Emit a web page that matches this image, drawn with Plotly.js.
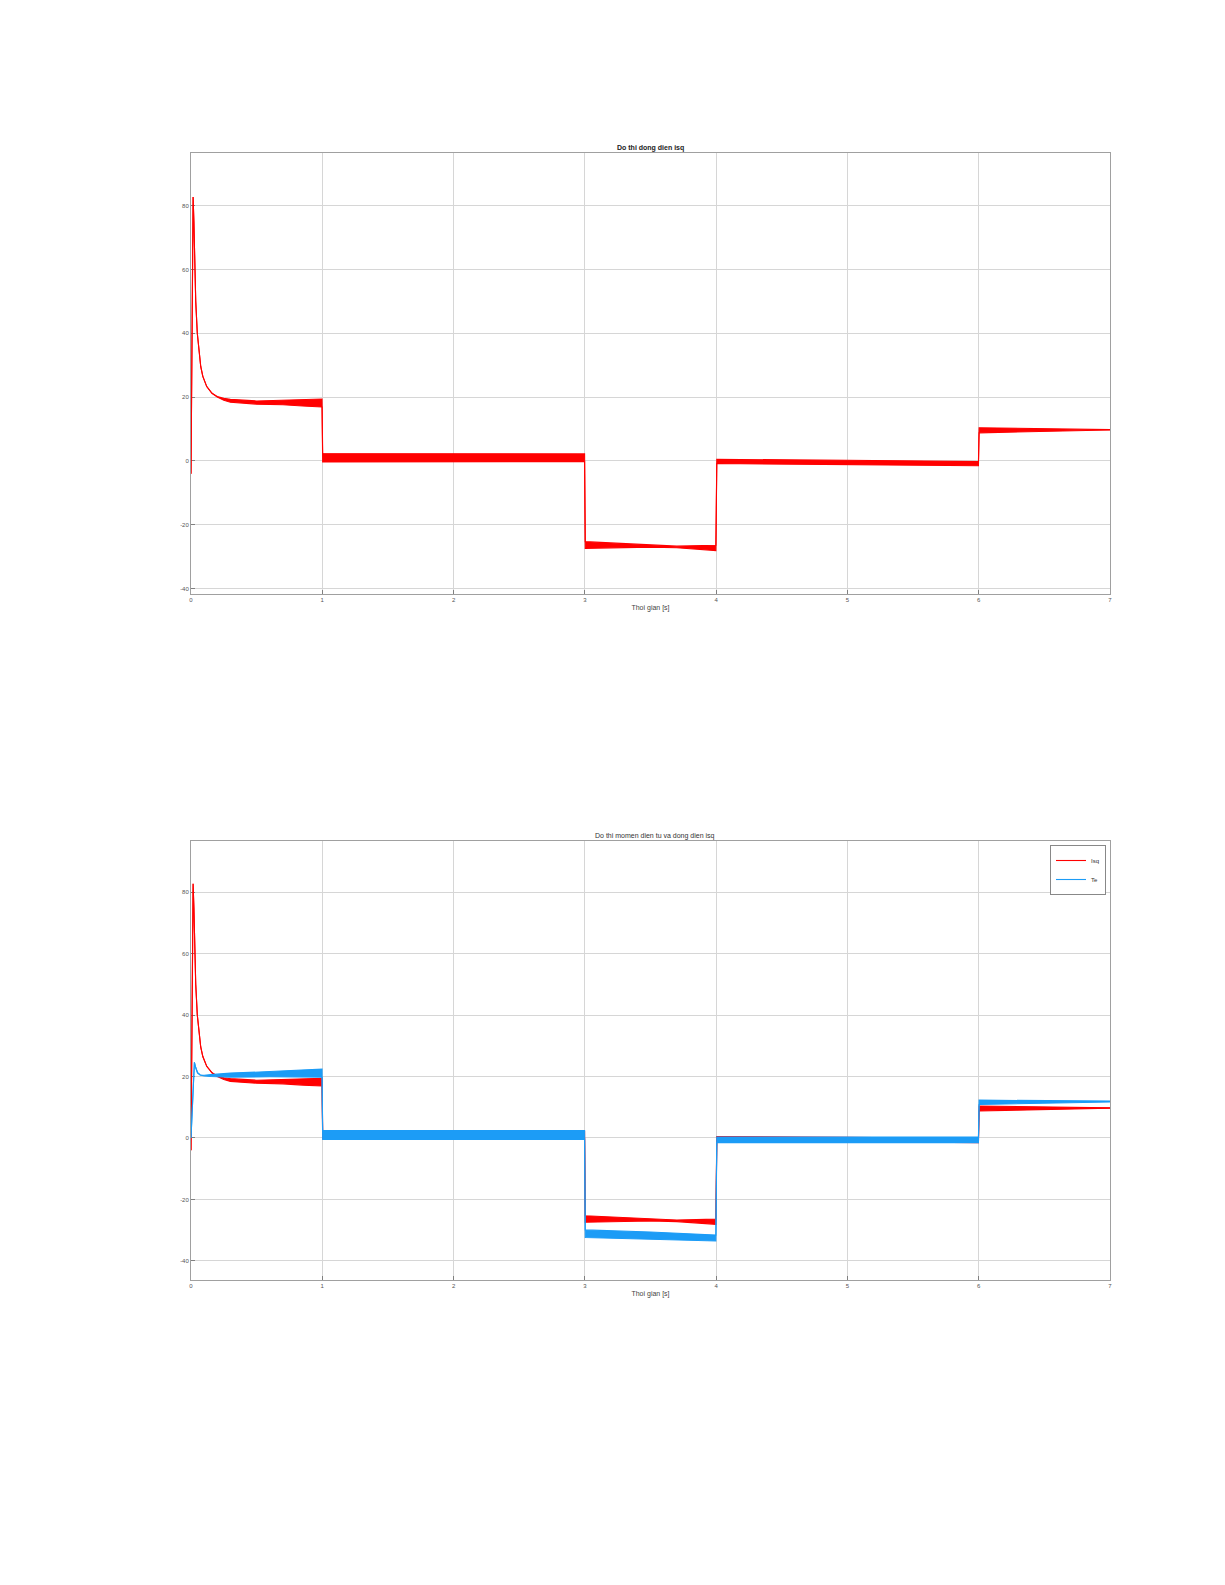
<!DOCTYPE html>
<html>
<head>
<meta charset="utf-8">
<script src="https://cdn.plot.ly/plotly-3.0.1.min.js"></script>
<style>html,body{margin:0;padding:0;background:#fff;}#chart{width:1225px;height:1585px;}</style>
</head>
<body>
<div id="chart"></div>
<script>
// ---- Data (envelopes of the oscillating signals) ----
const tIsq = [0, 0.004, 0.01, 0.016, 0.022, 0.028, 0.036, 0.048, 0.06, 0.074, 0.09, 0.12, 0.16, 0.2, 0.25, 0.3, 0.5, 0.7, 0.85, 0.998, 1.003, 2.0, 2.998, 3.003, 3.5, 3.7, 3.998, 4.005, 5.0, 5.998, 6.003, 6.5, 6.998, 7.0];
const isqHigh = [-4, 30, 70, 82.7, 75, 60, 50, 40, 34, 29.6, 26.5, 23.3, 21.2, 20.2, 19.6, 19.3, 18.8, 19.0, 19.3, 19.4, 2.3, 2.2, 2.2, -25.3, -26.2, -26.7, -26.4, 0.5, 0.2, -0.2, 10.4, 10.1, 9.9, 9.8];
const isqLow  = [-4, 30, 70, 82.7, 75, 60, 50, 40, 34, 29.6, 26.5, 23.3, 21.2, 20.0, 19.0, 18.4, 17.8, 17.6, 17.2, 16.9, -0.3, -0.2, -0.2, -27.4, -27.0, -27.2, -28.1, -0.8, -1.1, -1.5, 8.8, 9.3, 9.6, 9.7];

const tTe = [0, 0.01, 0.02, 0.026, 0.035, 0.05, 0.07, 0.1, 0.15, 0.3, 0.6, 0.998, 1.003, 2.0, 2.998, 3.003, 3.5, 3.998, 4.005, 5.0, 5.998, 6.003, 6.5, 6.998, 7.0];
const teHigh = [0, 12, 23, 24.6, 23, 21.2, 20.5, 20.4, 20.6, 21.1, 21.6, 22.4, 2.4, 2.4, 2.4, -29.9, -30.6, -31.6, 0.3, 0.3, 0.3, 12.3, 12.1, 12.0, 12.0];
const teLow  = [0, 12, 23, 24.6, 23, 21.2, 20.5, 20.2, 20.0, 19.8, 19.9, 19.8, -0.5, -0.5, -0.5, -32.4, -32.9, -33.5, -1.5, -1.5, -1.5, 10.9, 11.3, 11.6, 11.7];

const xTickVals = [0, 1, 2, 3, 4, 5, 6, 7];
const xTickText = ["0", "1", "2", "3", "4", "5", "6", "7"];
const yTickVals = [-40, -20, 0, 20, 40, 60, 80];
const yTickText = ["-40", "-20", "0", "20", "40", "60", "80"];

const title1 = "Do thi dong dien isq";
const title2 = "Do thi momen dien tu va dong dien isq";
const xTitle = "Thoi gian [s]";
const seriesNames = ["Isq", "Te"];

const RED = "#ff0000";
const BLUE = "#1c9cf6";

function band(x, lo, hi, color, xa, ya, name, showLeg) {
  return [
    {x: x, y: lo, xaxis: xa, yaxis: ya, type: "scatter", mode: "lines",
     line: {color: color, width: 1.1}, name: name, legendgroup: name,
     showlegend: showLeg, hoverinfo: "skip"},
    {x: x, y: hi, xaxis: xa, yaxis: ya, type: "scatter", mode: "lines",
     line: {color: color, width: 1.1}, fill: "tonexty", fillcolor: color,
     name: name, legendgroup: name, showlegend: false, hoverinfo: "skip"}
  ];
}

const traces = []
  .concat(band(tIsq, isqLow, isqHigh, RED, "x", "y", seriesNames[0], false))
  .concat(band(tIsq, isqLow, isqHigh, RED, "x2", "y2", seriesNames[0], true))
  .concat(band(tTe, teLow, teHigh, BLUE, "x2", "y2", seriesNames[1], true));

const FONT = "Liberation Sans, Arial, sans-serif";
const xDom = [191/1225, 1110/1225];

function xAxis(anchor) {
  return {
    domain: xDom, anchor: anchor, range: [0, 7],
    tickmode: "array", tickvals: xTickVals, ticktext: xTickText,
    showgrid: true, gridcolor: "#d6d6d6", gridwidth: 1,
    zeroline: false, showline: true, linecolor: "#a0a0a0", linewidth: 1, mirror: true,
    ticks: "inside", ticklen: 4, tickcolor: "#808080", layer: "below traces",
    tickfont: {family: FONT, size: 6, color: "#555"},
    title: {text: xTitle, font: {family: FONT, size: 7, color: "#444"}, standoff: 2},
    automargin: false
  };
}
function yAxis(anchor, dom, rng) {
  return {
    domain: dom, anchor: anchor, range: rng,
    tickmode: "array", tickvals: yTickVals, ticktext: yTickText,
    showgrid: true, gridcolor: "#d6d6d6", gridwidth: 1,
    zeroline: false, showline: true, linecolor: "#a0a0a0", linewidth: 1, mirror: true,
    ticks: "inside", ticklen: 4, tickcolor: "#808080", layer: "below traces",
    tickfont: {family: FONT, size: 6, color: "#555"},
    automargin: false
  };
}

const layout = {
  width: 1225, height: 1585,
  margin: {l: 0, r: 0, t: 0, b: 0},
  paper_bgcolor: "#ffffff", plot_bgcolor: "#ffffff",
  showlegend: true,
  xaxis: xAxis("y"),
  yaxis: yAxis("x", [1 - 594/1585, 1 - 153/1585], [-41.7, 96.5]),
  xaxis2: xAxis("y2"),
  yaxis2: yAxis("x2", [1 - 1280/1585, 1 - 841/1585], [-46.2, 96.6]),
  legend: {
    x: 1106/1225, y: 1 - 845/1585, xanchor: "right", yanchor: "top",
    bgcolor: "#ffffff", bordercolor: "#888", borderwidth: 1,
    font: {family: FONT, size: 6, color: "#333"},
    tracegroupgap: 0, itemwidth: 30
  },
  annotations: [
    {text: "<b>" + title1 + "</b>", xref: "paper", yref: "paper",
     x: 650.5/1225, y: 1 - 148/1585, xanchor: "center", yanchor: "middle",
     showarrow: false, font: {family: FONT, size: 7, color: "#222"}},
    {text: title2, xref: "paper", yref: "paper",
     x: 655/1225, y: 1 - 836/1585, xanchor: "center", yanchor: "middle",
     showarrow: false, font: {family: FONT, size: 7, color: "#333"}}
  ]
};

Plotly.newPlot("chart", traces, layout, {staticPlot: true, displayModeBar: false});
</script>
</body>
</html>
